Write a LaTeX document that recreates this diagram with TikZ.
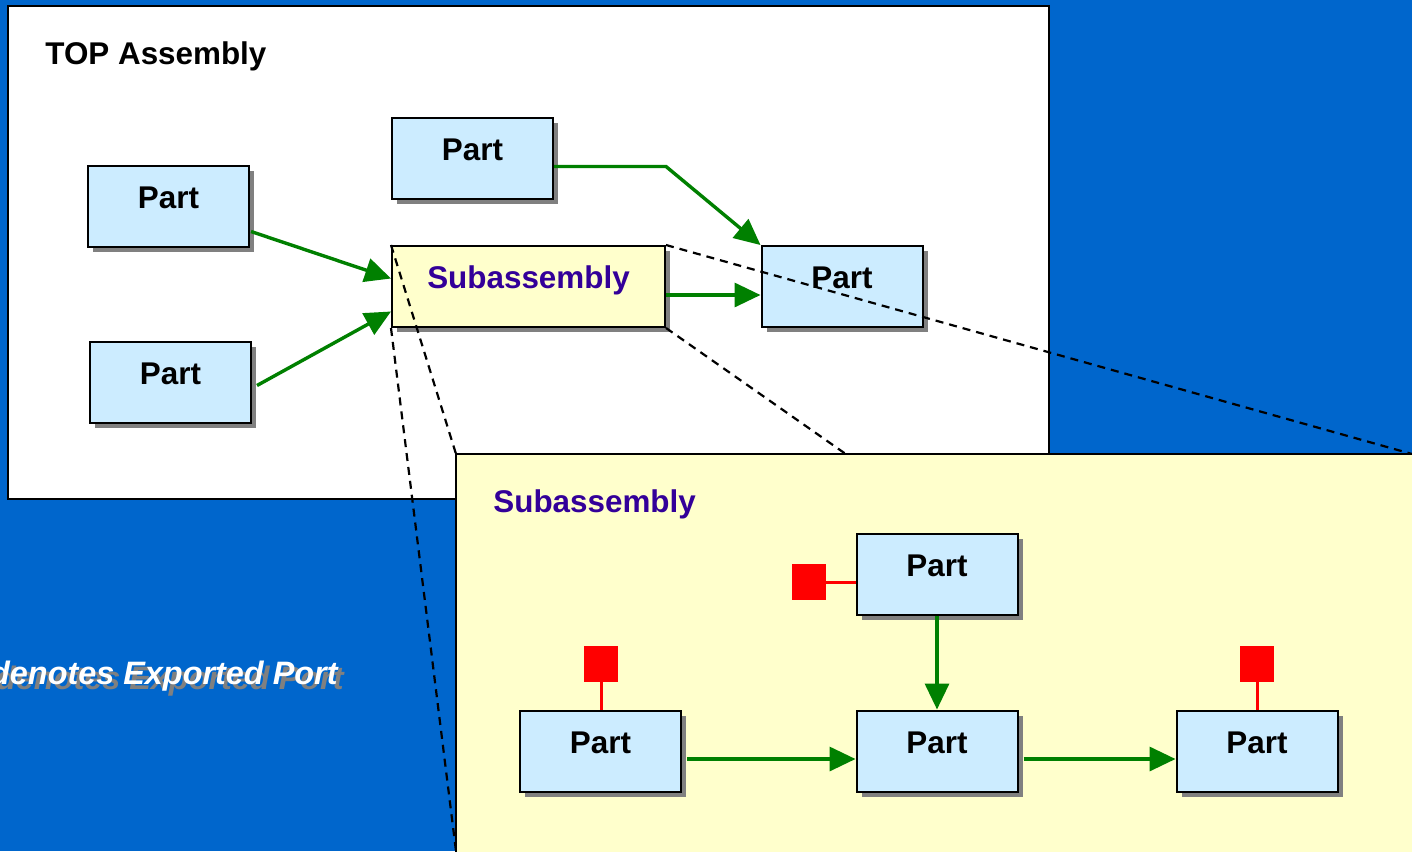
\documentclass[tikz,border=0pt]{standalone}
\usepackage{fontspec}
\setmainfont{Liberation Sans}
\usepackage{xcolor}
\usepackage{tikz}
\usetikzlibrary{arrows.meta,calc,positioning,shadows}

\definecolor{slideblue}{HTML}{0066CC}
\definecolor{partblue}{HTML}{CCECFF}
\definecolor{subyellow}{HTML}{FFFFCC}
\definecolor{shadowgrey}{HTML}{808080}
\definecolor{linkgreen}{HTML}{008000}
\definecolor{portred}{HTML}{FF0000}
\definecolor{titlepurple}{HTML}{330099}

\newcommand{\boxfont}{\fontsize{15.7}{18}\selectfont\bfseries}
\newcommand{\notefont}{\fontsize{16.2}{18}\selectfont\bfseries\itshape}

\tikzset{
  part/.style={draw=black, line width=1pt, fill=partblue, minimum width=80.5pt,
    minimum height=40.5pt, inner sep=0pt, text height=11pt, text depth=9pt, font=\boxfont,
    drop shadow={shadow xshift=2.5pt, shadow yshift=-2.5pt, fill=shadowgrey, opacity=1}},
  subpart/.style={part, fill=subyellow, minimum width=136.5pt, text=titlepurple},
  port/.style={fill=portred, minimum width=17pt, minimum height=18pt, inner sep=0pt},
  link/.style={draw=linkgreen, line width=1.7pt, -{Triangle[length=13pt,width=12pt]}},
  portlink/.style={draw=portred, line width=1.5pt},
  zoomline/.style={line width=1.1pt, dash pattern=on 4pt off 3pt},
  frame/.style={draw=black, line width=1pt},
}

\begin{document}
\begin{tikzpicture}[x=0.5pt, y=-0.5pt]
    \useasboundingbox (0,0) rectangle (1412,851);
    \clip (0,0) rectangle (1412,851);
    \fill[slideblue] (0,0) rectangle (1412,851);

    % Top level assembly
    \draw[frame, fill=white] (8,6) rectangle (1049,499);
    \node[anchor=base west, inner sep=0pt, font=\boxfont] (toptitle) at (45,64) {TOP Assembly};

    \node[part] (partA) at (168.5,206.5) {Part};
    \node[part] (partB) at (170.5,382.5) {Part};
    \node[part] (partC) at (472.5,158.5) {Part};
    \node[part] (partD) at (842,286.5) {Part};
    \node[subpart] (subasm) at (528.5,286.5) {Subassembly};

    \draw[link] ($(partA.east)+(1,25)$) -- ($(subasm.west)+(0,-8)$);
    \draw[link] ($(partB.east)+(5,3)$) -- ($(subasm.west)+(0,25)$);
    \draw[link] ($(partC.east)+(0,8)$) -- ++(112,0) -- (partD.north west);
    \draw[link] ($(subasm.east)+(0,8.5)$) -- ($(partD.west)+(0,8.5)$);

    % Zoom lines
    \coordinate (zoomTL) at (456,454);
    \coordinate (zoomTR) at (1412,454);
    \coordinate (zoomBL) at (456,851);
    \coordinate (zoomBR) at (1412,851);
    \draw[zoomline] (subasm.north west) -- (zoomTL);
    \draw[zoomline] (subasm.south west) -- (zoomBL);
    \draw[zoomline] (subasm.north east) -- (zoomTR);
    \draw[zoomline] (subasm.south east) -- (zoomBR);

    % Subassembly detail
    \draw[frame, fill=subyellow] (zoomTL) rectangle ($(zoomBR)+(4,4)$);
    \node[anchor=base west, inner sep=0pt, font=\boxfont, text=titlepurple] (subtitle) at (493,512) {Subassembly};

    \node[part] (partE) at (937,574.5) {Part};
    \node[part] (partF) at (600.5,751) {Part};
    \node[part] (partG) at (937,751) {Part};
    \node[part] (partH) at (1257,751) {Part};

    \node[port] (portE) at (809,582) {};
    \node[port] (portF) at (601,664) {};
    \node[port] (portH) at (1257,664) {};
    \draw[portlink] (portE.east) -- (portE.east -| partE.west);
    \draw[portlink] (portF.south) -- (portF.south |- partF.north);
    \draw[portlink] (portH.south) -- (portH.south |- partH.north);

    \draw[link] (partE.south) -- (partG.north);
    \draw[link] ($(partF.east)+(5,8)$) -- ($(partG.west)+(0,8)$);
    \draw[link] ($(partG.east)+(5,8)$) -- ($(partH.west)+(0,8)$);

    % Legend
    \node[anchor=base east, inner sep=0pt, font=\notefont, text=shadowgrey] (noteshadow) at (344,689) {denotes Exported Port};
    \node[anchor=base east, inner sep=0pt, font=\notefont, text=white] (portnote) at (338,684) {denotes Exported Port};
\end{tikzpicture}
\end{document}
